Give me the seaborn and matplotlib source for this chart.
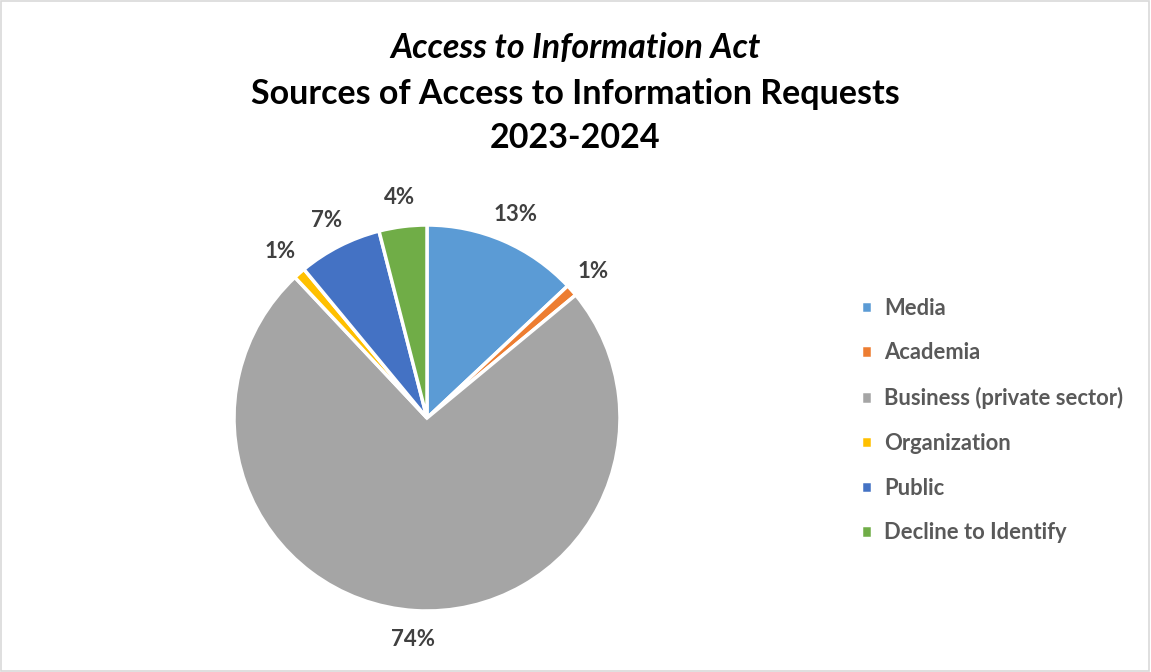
import matplotlib
matplotlib.use("Agg")
import matplotlib.pyplot as plt
import seaborn as sns
from matplotlib.patches import Rectangle

CATEGORIES = ["Media", "Academia", "Business (private sector)", "Organization",
              "Public", "Decline to Identify"]
SHARES = [13, 1, 74, 1, 7, 4]
COLORS = ["#5B9BD5", "#ED7D31", "#A5A5A5", "#FFC000", "#4472C4", "#70AD47"]

TITLE_1 = "Access to Information Act"
TITLE_2 = "Sources of Access to Information Requests"
TITLE_3 = "2023-2024"


def main():
    sns.set_theme(style="white")
    plt.rcParams["font.family"] = ["Lato", "DejaVu Sans"]

    W, H = 1151, 672
    fig = plt.figure(figsize=(W / 100, H / 100), dpi=100)
    fig.patch.set_facecolor("white")

    # pie axes: center ~(427, 418) px, radius ~193 px
    cx, cy, r = 427, 418, 193
    ax = fig.add_axes([(cx - r) / W, (H - cy - r) / H, 2 * r / W, 2 * r / H])
    wedges, _, autotexts = ax.pie(
        SHARES, colors=COLORS, startangle=90, counterclock=False,
        autopct="%1.0f%%", pctdistance=1.15,
        wedgeprops={"edgecolor": "white", "linewidth": 2.5},
        textprops={"fontsize": 16, "fontweight": "bold", "color": "#404040"},
    )
    ax.set_xlim(-1, 1)
    ax.set_ylim(-1, 1)
    ax.set_aspect("equal")
    ax.axis("off")

    title_kw = dict(ha="center", va="center", fontsize=24.5, fontweight="bold",
                    color="black")
    fig.text(0.5, 1 - 48 / H, TITLE_1, style="italic", **title_kw)
    fig.text(0.5, 1 - 94 / H, TITLE_2, **title_kw)
    fig.text(0.5, 1 - 138 / H, TITLE_3, **title_kw)

    leg = fig.legend(wedges, CATEGORIES, loc="upper left",
                     bbox_to_anchor=(841 / W, 1 - 278 / H), frameon=False,
                     fontsize=15.8, handlelength=0.5, handleheight=0.5,
                     handletextpad=0.55, labelspacing=1.08)
    for t in leg.get_texts():
        t.set_color("#595959")
        t.set_fontweight("bold")

    fig.add_artist(Rectangle((0.001, 0.001), 0.997, 0.997, transform=fig.transFigure,
                             fill=False, edgecolor="#d9d9d9", linewidth=1.2))

    fig.savefig("out.png", dpi=100, facecolor="white")
    plt.close(fig)


if __name__ == "__main__":
    main()
